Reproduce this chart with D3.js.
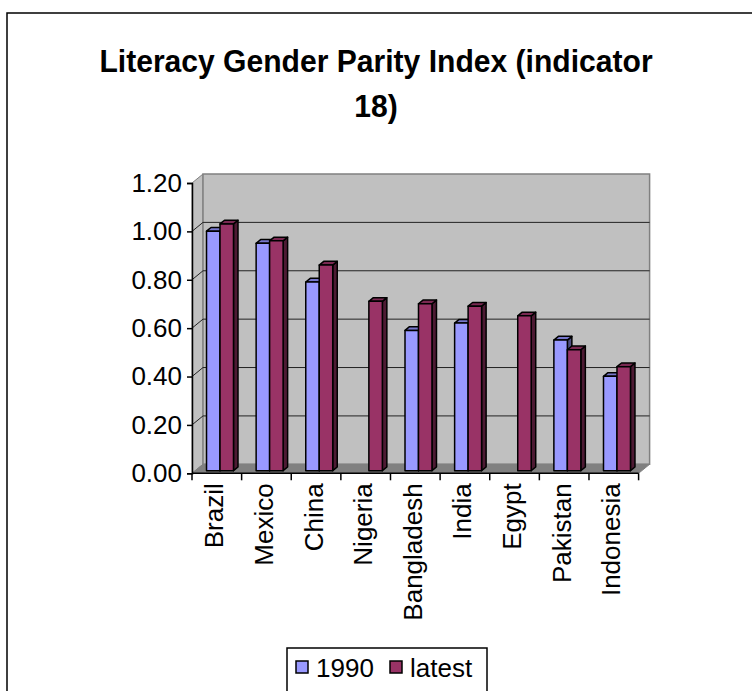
<!DOCTYPE html>
<html>
<head>
<meta charset="utf-8">
<script src="https://cdn.jsdelivr.net/npm/d3@7"></script>
<style>
  html, body { margin: 0; padding: 0; background: #fff; }
  svg { display: block; font-family: "Liberation Sans", Arial, sans-serif; }
</style>
</head>
<body>
<svg id="chart" width="752" height="691"></svg>
<script>
// Literacy gender parity index by country, 1990 vs latest year
const countries = ["Brazil", "Mexico", "China", "Nigeria", "Bangladesh", "India", "Egypt", "Pakistan", "Indonesia"];
const seriesNames = ["1990", "latest"];
const values1990 = [0.99, 0.94, 0.78, null, 0.58, 0.61, null, 0.54, 0.39];
const valuesLatest = [1.02, 0.95, 0.85, 0.70, 0.69, 0.68, 0.64, 0.50, 0.43];
const yTicks = [0, 0.2, 0.4, 0.6, 0.8, 1.0, 1.2];
const titleLines = ["Literacy Gender Parity Index (indicator", "18)"];

const seriesValues = [values1990, valuesLatest];
const faceColors = [
  { front: "#9999ff", top: "#7777cc", side: "#4d4d80" },
  { front: "#993366", top: "#7a2952", side: "#4d1a33" }
];

const svg = d3.select("#chart");

// outer chart frame
svg.append("rect")
  .attr("x", 7).attr("y", 13)
  .attr("width", 780).attr("height", 720)
  .attr("fill", "#fff").attr("stroke", "#000").attr("stroke-width", 1.5);

// title, slightly condensed
svg.append("g").attr("transform", "translate(376,0) scale(0.94,1)")
  .selectAll("text").data(titleLines).join("text")
  .attr("x", 0)
  .attr("y", (d, i) => 72 + i * 45)
  .attr("text-anchor", "middle")
  .attr("font-weight", "bold")
  .attr("font-size", 32)
  .text(d => d);

// plot geometry: front plane plus a receding depth offset
const plotLeft = 192, plotRight = 638.6, plotTop = 183, plotBottom = 473.3;
const DX = 11, DY = -9;

const x0 = d3.scaleBand().domain(countries).range([plotLeft, plotRight]).padding(0);
const x1 = d3.scaleBand().domain(seriesNames).range([0, x0.bandwidth()])
  .paddingInner(0).paddingOuter(0.84);
const y = d3.scaleLinear().domain([0, 1.2]).range([plotBottom, plotTop]);

const P = (xf, v, d) => [xf + d * DX, y(v) + d * DY];
const poly = pts => "M" + pts.map(p => p.join(",")).join("L") + "Z";

const walls = svg.append("g");
// side wall
walls.append("path")
  .attr("d", poly([P(plotLeft, 1.2, 0), P(plotLeft, 1.2, 1), P(plotLeft, 0, 1), P(plotLeft, 0, 0)]))
  .attr("fill", "#c0c0c0").attr("stroke", "#808080").attr("stroke-width", 1);
// back wall
walls.append("path")
  .attr("d", poly([P(plotLeft, 1.2, 1), P(plotRight, 1.2, 1), P(plotRight, 0, 1), P(plotLeft, 0, 1)]))
  .attr("fill", "#c0c0c0").attr("stroke", "#808080").attr("stroke-width", 1.5);
// floor
walls.append("path")
  .attr("d", poly([P(plotLeft, 0, 0), P(plotLeft, 0, 1), P(plotRight, 0, 1), P(plotRight, 0, 0)]))
  .attr("fill", "#808080").attr("stroke", "#808080").attr("stroke-width", 1);

// gridlines across side and back walls
walls.append("g").selectAll("path")
  .data(yTicks.filter(t => t > 0 && t < 1.2))
  .join("path")
  .attr("d", t => "M" + P(plotLeft, t, 0).join(",") + "L" + P(plotLeft, t, 1).join(",") + "L" + P(plotRight, t, 1).join(","))
  .attr("fill", "none").attr("stroke", "#222").attr("stroke-width", 1);

// 3D bars
const d0 = 0.29, d1 = 0.70;
const bars = svg.append("g");
countries.forEach((c, ci) => {
  seriesNames.forEach((s, si) => {
    const v = seriesValues[si][ci];
    if (v == null) return;
    const xa = x0(c) + x1(s), xb = xa + x1.bandwidth();
    const col = faceColors[si];
    const g = bars.append("g")
      .attr("stroke", "#000").attr("stroke-width", 1.5).attr("stroke-linejoin", "round");
    g.append("path").attr("d", poly([P(xb, 0, d0), P(xb, 0, d1), P(xb, v, d1), P(xb, v, d0)])).attr("fill", col.side);
    g.append("path").attr("d", poly([P(xa, v, d0), P(xb, v, d0), P(xb, v, d1), P(xa, v, d1)])).attr("fill", col.top);
    g.append("path").attr("d", poly([P(xa, 0, d0), P(xb, 0, d0), P(xb, v, d0), P(xa, v, d0)])).attr("fill", col.front);
  });
});

// y axis
const yAxis = d3.axisLeft(y).tickValues(yTicks).tickFormat(d3.format(".2f"))
  .tickSize(5).tickPadding(5);
const gy = svg.append("g").attr("transform", `translate(${plotLeft},0)`).call(yAxis);
gy.select(".domain").attr("stroke", "#000").attr("stroke-width", 1.5);
gy.selectAll(".tick line").attr("stroke", "#000").attr("stroke-width", 1.5);
gy.selectAll(".tick text").attr("font-size", 26).attr("fill", "#000")
  .attr("font-family", "'Liberation Sans', Arial, sans-serif");

// x axis: baseline with ticks at category boundaries
const gx = svg.append("g");
gx.append("line").attr("x1", plotLeft).attr("x2", plotRight).attr("y1", plotBottom).attr("y2", plotBottom)
  .attr("stroke", "#000").attr("stroke-width", 1.5);
gx.selectAll("line.tk").data(countries.map(c => x0(c)).concat([plotRight])).join("line")
  .attr("class", "tk")
  .attr("x1", d => d).attr("x2", d => d)
  .attr("y1", plotBottom).attr("y2", plotBottom + 7)
  .attr("stroke", "#000").attr("stroke-width", 1.5);
gx.selectAll("text").data(countries).join("text")
  .attr("transform", d => `translate(${x0(d) + x0.bandwidth() / 2 + 6.5},${plotBottom + 10}) rotate(-90)`)
  .attr("text-anchor", "end")
  .attr("font-size", 26)
  .text(d => d);

// legend
const lg = svg.append("g");
lg.append("rect").attr("x", 287).attr("y", 648).attr("width", 200).attr("height", 60)
  .attr("fill", "#fff").attr("stroke", "#000").attr("stroke-width", 1.5);
const legendItems = [
  { name: seriesNames[0], color: faceColors[0].front, x: 296, tx: 316 },
  { name: seriesNames[1], color: faceColors[1].front, x: 390, tx: 410 }
];
const li = lg.selectAll("g").data(legendItems).join("g");
li.append("rect").attr("x", d => d.x).attr("y", 661).attr("width", 12).attr("height", 12)
  .attr("fill", d => d.color).attr("stroke", "#000").attr("stroke-width", 1.5);
li.append("text").attr("x", d => d.tx).attr("y", 677).attr("font-size", 26).text(d => d.name);
</script>
</body>
</html>
